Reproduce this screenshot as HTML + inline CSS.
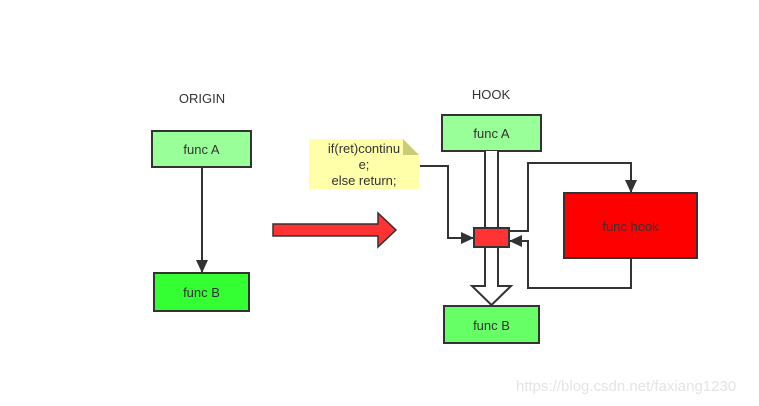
<!DOCTYPE html>
<html><head><meta charset="utf-8"><style>
html,body{margin:0;padding:0;background:#fff;width:759px;height:406px;overflow:hidden}
svg{display:block}
text{font-family:"Liberation Sans",sans-serif;font-size:13px;fill:#333}
</style></head><body>
<svg width="759" height="406" viewBox="0 0 759 406" xmlns="http://www.w3.org/2000/svg">
<defs>
<marker id="ah" markerWidth="13" markerHeight="12" refX="12" refY="6" orient="auto" markerUnits="userSpaceOnUse">
<path d="M0,0 L13,6 L0,12 Z" fill="#333"/></marker>
</defs>
<text x="202" y="103" text-anchor="middle">ORIGIN</text>
<rect x="152" y="131" width="99" height="36" fill="#99ff99" stroke="#333" stroke-width="2"/>
<text x="201.5" y="154" text-anchor="middle">func A</text>
<line x1="202" y1="167" x2="202" y2="272" stroke="#333" stroke-width="2" marker-end="url(#ah)"/>
<rect x="154" y="273" width="95" height="38" fill="#33ff33" stroke="#333" stroke-width="2"/>
<text x="201.5" y="297" text-anchor="middle">func B</text>
<path d="M273,224 L378,224 L378,213 L396,230 L378,247 L378,236 L273,236 Z" fill="#ff3333" stroke="#333" stroke-width="1.5"/>
<path d="M309,139 L403,139 L419,155 L419,189 L309,189 Z" fill="#ffffaa"/>
<path d="M403,139 L419,155 L403,155 Z" fill="#cccc77"/>
<text x="364" y="153" text-anchor="middle">if(ret)continu</text>
<text x="364" y="169" text-anchor="middle">e;</text>
<text x="364" y="185" text-anchor="middle">else return;</text>
<text x="491" y="99" text-anchor="middle">HOOK</text>
<rect x="442" y="115" width="99" height="36" fill="#99ff99" stroke="#333" stroke-width="2"/>
<text x="491.5" y="138" text-anchor="middle">func A</text>
<path d="M485,151 L485,286 L472,286 L491.5,305 L511,286 L498,286 L498,151" fill="#fff" stroke="#333" stroke-width="2"/>
<rect x="444" y="306" width="95" height="37" fill="#66ff66" stroke="#333" stroke-width="2"/>
<text x="491.5" y="330" text-anchor="middle">func B</text>
<polyline points="420,166 448,166 448,238 473,238" fill="none" stroke="#333" stroke-width="2" marker-end="url(#ah)"/>
<rect x="474" y="228" width="35" height="19" fill="#ff3333" stroke="#333" stroke-width="2"/>
<rect x="564" y="193" width="133" height="65" fill="#ff0000" stroke="#333" stroke-width="2"/>
<text x="630.5" y="231" text-anchor="middle">func hook</text>
<polyline points="509,231 528,231 528,163 631,163 631,192" fill="none" stroke="#333" stroke-width="2" marker-end="url(#ah)"/>
<polyline points="631,258 631,288 528,288 528,241 510,241" fill="none" stroke="#333" stroke-width="2" marker-end="url(#ah)"/>
<text x="516" y="391" style="font-size:15px;fill:#e4e4e4">https://blog.csdn.net/faxiang1230</text>
</svg>
</body></html>
